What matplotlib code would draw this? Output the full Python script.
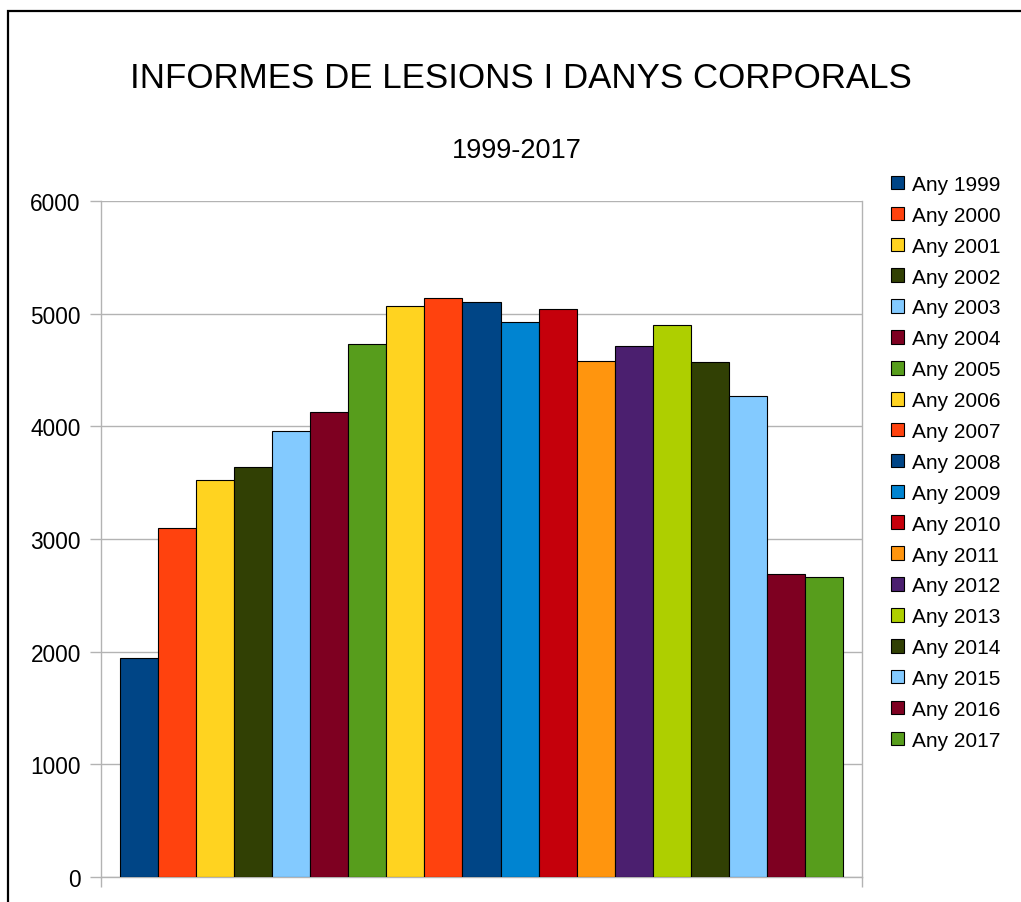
import matplotlib
matplotlib.use("Agg")
import matplotlib.pyplot as plt
from matplotlib.patches import Patch, Rectangle

plt.rcParams['font.family'] = ['Liberation Sans', 'DejaVu Sans']

years = ["Any 1999", "Any 2000", "Any 2001", "Any 2002", "Any 2003", "Any 2004",
         "Any 2005", "Any 2006", "Any 2007", "Any 2008", "Any 2009", "Any 2010",
         "Any 2011", "Any 2012", "Any 2013", "Any 2014", "Any 2015", "Any 2016",
         "Any 2017"]
values = [1940, 3097, 3520, 3640, 3958, 4124, 4728, 5071, 5136, 5103, 4926,
          5038, 4577, 4713, 4896, 4568, 4272, 2692, 2665]
colors = ["#004586", "#ff420e", "#ffd320", "#314004", "#83caff", "#7e0021",
          "#579d1c", "#ffd320", "#ff420e", "#004586", "#0084d1", "#c5000b",
          "#ff950e", "#4b1f6f", "#aecf00", "#314004", "#83caff", "#7e0021",
          "#579d1c"]
yticks = [0, 1000, 2000, 3000, 4000, 5000, 6000]

W, H = 1021, 903
fig = plt.figure(figsize=(W / 100, H / 100), dpi=100)
ax = fig.add_axes([101 / W, (H - 878) / H, (862 - 101) / W, (878 - 202) / H])

positions = list(range(len(values)))
ax.bar(positions, values, width=1.0, color=colors, edgecolor="black",
       linewidth=0.8, zorder=3)

ax.set_xlim(-1, len(values))
ax.set_ylim(0, 6000)
ax.set_yticks(yticks)
ax.set_yticklabels([str(v) for v in yticks], fontsize=16.3)
ax.set_xticks([-1, len(values)])
ax.set_xticklabels(["", ""])
ax.grid(axis="y", color="#b3b3b3", linewidth=1.0, zorder=0)
for side in ["left", "bottom", "right"]:
    ax.spines[side].set_color("#b3b3b3")
    ax.spines[side].set_linewidth(1.0)
ax.spines["top"].set_visible(False)
ax.tick_params(axis="y", length=8, width=1.0, color="#b3b3b3", pad=6.5,
               labelcolor="black")
ax.tick_params(axis="x", length=7, width=1.0, color="#b3b3b3")

fig.text(521 / W, 1 - 79 / H, "INFORMES DE LESIONS I DANYS CORPORALS",
         ha="center", va="center", fontsize=25.1)
fig.text(517 / W, 1 - 151 / H, "1999-2017", ha="center", va="center",
         fontsize=19.5)

handles = [Patch(facecolor=c, edgecolor="black", linewidth=0.8) for c in colors]
fig.legend(handles, years, loc="upper left",
           bbox_to_anchor=(891 / W, 1 - 176 / H), frameon=False,
           fontsize=15, handlelength=0.63, handleheight=0.63,
           handletextpad=0.37, labelspacing=0.57, borderaxespad=0,
           borderpad=0)

fig.add_artist(Rectangle((8 / W, -0.1), 1.2, (H - 12) / H + 0.1,
                         transform=fig.transFigure, fill=False,
                         edgecolor="black", linewidth=1.6))

fig.savefig("out.png", dpi=100)
